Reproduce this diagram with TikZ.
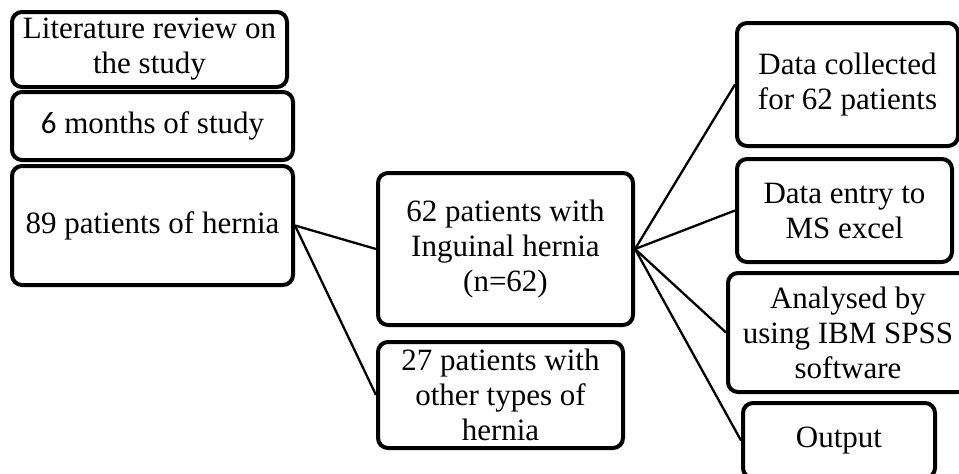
\documentclass[tikz,border=0pt]{standalone}
\usepackage{fontspec}
\setmainfont{Liberation Serif}
\newfontfamily\sixfont{Carlito}
\begin{document}
\begin{tikzpicture}[x=1pt,y=-1pt,
  box/.style={draw,line width=4pt,rounded corners=10pt,align=center,inner sep=1pt,
    font=\fontsize{31}{35}\selectfont},
  link/.style={line width=2.3pt}]
\useasboundingbox (0,0) rectangle (959,474);
\clip (0,0) rectangle (959,474);
\node[box,minimum width=275pt,minimum height=75pt] (lit) at (149.5,49.5) {Literature review on\\the study};
\node[box,minimum width=281pt,minimum height=68pt] (six) at (152.5,126) {{\sixfont 6} months of study};
\node[box,minimum width=281pt,minimum height=119pt] (all) at (152.5,225.5) {89 patients of hernia};
\node[box,minimum width=255pt,minimum height=152pt] (ing) at (505.5,249) {62 patients with\\Inguinal hernia\\(n=62)};
\node[box,minimum width=245pt,minimum height=106pt] (oth) at (500.5,395) {27 patients with\\other types of\\hernia};
\node[box,minimum width=221pt,minimum height=123pt] (dc) at (847.5,84.5) {Data collected\\for 62 patients};
\node[box,minimum width=215pt,minimum height=103pt] (de) at (844.5,210.5) {Data entry to\\MS excel};
\node[box,minimum width=240pt,minimum height=119pt] (an) at (848,332.5) {Analysed by\\using IBM SPSS\\software};
\node[box,minimum width=192pt,minimum height=75pt] (out) at (839,440.5) {Output};
\draw[link] (all.east) -- (ing.west);
\draw[link] (all.east) -- (oth.west);
\draw[link] (ing.east) -- (dc.west);
\draw[link] (ing.east) -- (de.west);
\draw[link] (ing.east) -- (an.west);
\draw[link] (ing.east) -- (out.west);
\end{tikzpicture}
\end{document}
